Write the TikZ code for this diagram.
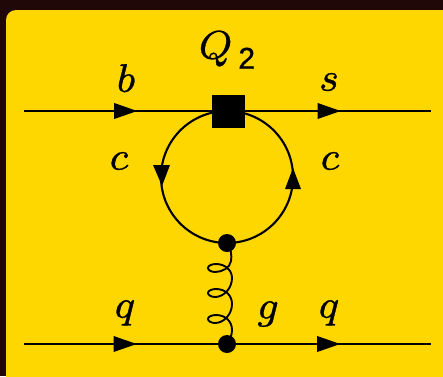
\documentclass[tikz,border=0pt]{standalone}
\usepackage{fontspec}
\usetikzlibrary{arrows.meta,decorations.markings}
\newfontfamily\sanstwo{Liberation Sans}
\definecolor{panel}{HTML}{FFD700}
\definecolor{dark}{HTML}{200808}
\newcommand{\heavy}[1]{\special{pdf:code 2 Tr 0.06 w}#1\special{pdf:code 0 Tr}}
\tikzset{
  fline/.style={line width=2.1pt,black},
  midtip/.style={postaction={decorate},decoration={markings,mark=at position #1 with {\arrow[line width=0pt]{Triangle[length=23pt,width=16pt]}}}},
  vdot/.style={circle,fill=black,inner sep=0pt,minimum size=18pt},
  vsq/.style={rectangle,fill=black,inner sep=0pt,minimum size=33pt},
  lbl/.style={inner sep=0pt,scale=5,font=\footnotesize,text=black},
  gluon/.style={line width=1.9pt,black}
}
\begin{document}
\begin{tikzpicture}[x=1pt,y=1pt]
\useasboundingbox (0,0) rectangle (443,376);
\fill[dark] (0,0) rectangle (443,376);
\fill[panel,rounded corners=10pt] (6,-20) rectangle (463,366);
\coordinate (a1) at (24,265);
\coordinate (b1) at (431,265);
\coordinate (a2) at (24,32);
\coordinate (b2) at (431,32);
\node[vsq] (sq) at (228,265) {};
\node[vdot] (top) at (227,133) {};
\node[vdot] (bot) at (227,32) {};
\draw[fline,midtip=0.555] (a1) -- (sq.center);
\draw[fline,midtip=0.555] (sq.center) -- (b1);
\draw[fline,midtip=0.555] (a2) -- (bot.center);
\draw[fline,midtip=0.555] (bot.center) -- (b2);
\draw[fline] (227,265) arc[start angle=90,end angle=270,radius=66pt];
\draw[fline] (227,133) arc[start angle=-90,end angle=90,radius=66pt];
\fill[black] (153,211) -- (170,211) -- (162,190) -- cycle;
\fill[black] (285,187) -- (301,187) -- (293,208) -- cycle;
\draw[gluon] (top.center) .. controls (231,127) and (232,121) .. (231,115)
  .. controls (230,108) and (222,104) .. (215,104)
  .. controls (211,104) and (208,106) .. (208,108)
  .. controls (208,110.5) and (212,112) .. (216,112)
  .. controls (225,112) and (232,106) .. (232,98)
  .. controls (232,88) and (224,79) .. (215,79)
  .. controls (211,79) and (208,81) .. (208,83)
  .. controls (208,85.5) and (212,87) .. (216,87)
  .. controls (225,87) and (232,81) .. (232,72)
  .. controls (232,62) and (224,53) .. (215,53)
  .. controls (211,53) and (208,55) .. (208,57)
  .. controls (208,59.5) and (212,61) .. (216,61)
  .. controls (225,61) and (232,55) .. (232,46)
  .. controls (232,41) and (230,36) .. (bot.center);
\node[lbl] (lb) at (126,298) {\heavy{$b$}};
\node[lbl] (ls) at (329,294) {\heavy{$s$}};
\node[lbl] (lQ) at (227,326) {\heavy{$Q$\kern1.2pt\raisebox{-2pt}{\fontsize{6}{6}\selectfont\sanstwo 2}}};
\node[lbl] (lc1) at (119,215) {\heavy{$c$}};
\node[lbl] (lc2) at (330,215) {\heavy{$c$}};
\node[lbl] (lq1) at (125,63) {\heavy{$q$}};
\node[lbl] (lg) at (268,62) {\heavy{$g$}};
\node[lbl] (lq2) at (329,63) {\heavy{$q$}};
\end{tikzpicture}
\end{document}
